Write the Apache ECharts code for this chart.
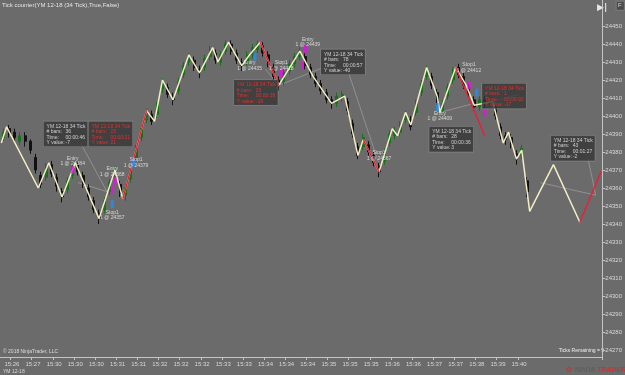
<!DOCTYPE html>
<html><head><meta charset="utf-8">
<script src="https://cdn.jsdelivr.net/npm/echarts@6/dist/echarts.min.js"></script>
<style>html,body{margin:0;padding:0;background:#6b6b6b}#c{width:625px;height:375px}</style>
</head><body><div id="c"></div>
<script>
// ---- data ----
const slotCount = 228;
const timeLabels = ['15:26','15:27','15:30','15:30','15:30','15:31','15:31','15:32','15:32','15:32','15:33','15:33','15:34','15:34','15:34','15:35','15:35','15:35','15:36','15:36','15:37','15:37','15:38','15:39','15:40'];
const yTicks = [24270,24280,24290,24300,24310,24320,24330,24340,24350,24360,24370,24380,24390,24400,24410,24420,24430,24440,24450];
const lastPrice = 24352;
// [open, close, low, high] one bar every other slot
const bars = [
[24388,24391,24386,24393],[24393,24390,24388,24395],[24391,24388,24385,24393],[24386,24389,24384,24391],[24389,24386,24383,24391],
[24386,24381,24379,24387],[24377,24370,24368,24379],[24367,24362,24360,24369],[24366,24372,24364,24374],[24373,24368,24366,24375],
[24366,24361,24358,24368],[24358,24355,24352,24360],[24359,24364,24357,24366],[24367,24372,24365,24374],[24373,24369,24367,24375],
[24367,24362,24360,24369],[24360,24355,24353,24362],[24353,24348,24346,24355],[24346,24343,24340,24348],[24348,24353,24346,24355],
[24358,24363,24356,24365],[24366,24370,24364,24372],[24362,24357,24355,24364],[24356,24360,24353,24362],[24365,24370,24363,24372],
[24377,24382,24375,24384],[24388,24393,24386,24395],[24398,24402,24396,24404],[24401,24397,24395,24403],[24401,24406,24399,24408],
[24415,24419,24413,24421],[24416,24412,24410,24418],[24411,24409,24406,24413],[24414,24419,24412,24421],[24423,24428,24421,24430],
[24430,24433,24428,24435],[24431,24427,24425,24433],[24426,24424,24421,24428],[24427,24432,24425,24434],[24433,24437,24431,24439],
[24435,24431,24429,24437],[24430,24434,24428,24436],[24436,24440,24434,24442],[24440,24436,24434,24442],[24435,24431,24429,24437],
[24430,24428,24425,24432],[24430,24434,24428,24436],[24434,24438,24432,24440],[24437,24440,24435,24442],[24439,24435,24433,24441],
[24434,24429,24427,24436],[24427,24422,24420,24429],[24420,24417,24414,24422],[24419,24424,24417,24426],[24425,24429,24423,24431],
[24429,24433,24427,24435],[24433,24436,24431,24438],[24433,24428,24426,24435],[24427,24423,24421,24429],[24422,24418,24416,24424],
[24418,24414,24412,24420],[24413,24409,24407,24415],[24409,24407,24404,24411],[24407,24411,24405,24413],[24410,24412,24408,24414],
[24408,24403,24401,24410],[24396,24390,24388,24398],[24383,24378,24376,24385],[24383,24388,24381,24390],[24384,24380,24378,24386],
[24378,24374,24372,24380],[24372,24369,24366,24374],[24375,24380,24373,24382],[24385,24390,24383,24392],[24389,24392,24387,24394],
[24391,24395,24389,24397],[24398,24401,24396,24403],[24398,24394,24392,24400],[24402,24407,24400,24409],[24413,24418,24411,24420],
[24422,24426,24420,24428],[24422,24417,24415,24424],[24413,24408,24406,24415],[24403,24407,24401,24409],[24411,24416,24409,24418],
[24420,24425,24418,24427],[24427,24423,24421,24429],[24422,24417,24415,24424],[24416,24412,24410,24418],[24409,24405,24403,24411],
[24405,24409,24403,24411],[24409,24407,24404,24411],[24406,24410,24404,24412],[24405,24400,24398,24407],[24394,24389,24387,24396],
[24389,24387,24384,24391],[24388,24384,24382,24390],[24379,24376,24373,24381],[24378,24382,24376,24384],[24364,24358,24355,24366]
];
const zigzag = [[0,24385],[2,24394],[14,24360],[18,24374],[23,24355],[28,24374],[37,24343],[43,24370],[46,24354],[55,24403],[58,24397],[61,24420],[65,24409],[71,24434],[75,24424],[80,24438],[82,24430],[86,24441],[91,24428],[94,24434],[98,24441],[105,24417],[113,24436],[118,24422],[125,24407],[130,24411],[135,24378],[137,24387],[143,24369],[148,24393],[150,24389],[153,24402],[155,24395],[161,24427],[165,24411],[166,24402],[172,24427],[176,24417],[179,24406],[186,24408],[190,24385],[192,24391],[195,24376],[197,24381],[200,24347],[209,24373],[219,24341]];
const redSegments = [
  [[46,24354],[55,24403]],
  [[98,24441],[105,24417]],
  [[137,24387],[143,24369]],
  [[172,24427],[183,24389]],
  [[219,24341],[227,24369]]
];
const connectors = [
  [[30,24385],[40,24358]],
  [[29,24363],[40,24358]],
  [[100,24426],[105,24417]],
  [[105,24417],[122,24427]],
  [[131,24426],[143,24373]],
  [[166,24402],[179,24407]],
  [[183,24407],[196,24412]],
  [[222,24377],[225,24356]],
  [[204,24363],[225,24356]]
];
const magentaMarks = [[27,24370],[43,24364],[42,24359],[106,24424],[115,24437],[114,24428],[177,24417],[183,24402]];
const blueMarks = [[42,24351],[50,24374],[96,24433],[165,24405],[180,24413]];
const tradeTexts = ['Entry\n1 @ 24384','Entry\n1 @ 24368','Stop1\n1 @ 24379','Stop1\n1 @ 24357','Entry\n1 @ 24435','Stop1\n1 @ 24418','Entry\n1 @ 24439','Stop1\n1 @ 24367','Stop1\n1 @ 24412','Entry\n1 @ 24409'];
const tradeAt = [[27,24375],[42,24369],[51,24374],[42,24345],[94,24428],[106,24428],[116,24441],[143,24378],[177,24427],[166,24400]];
const boxBars = [36,15,26,78,1,28,43];
const boxTimes = ['00:00:46','00:00:21','00:00:38','00:00:57','00:00:02','00:00:36','00:01:27'];
const boxYValues = [-7,21,-18,-40,-17,3,-2];
const boxIsRed = [false,true,true,false,true,false,false];
const boxAt = [[16,24397],[33,24397],[88,24420],[121,24437],[182,24418],[162,24394],[208,24389]];

// ---- build ----
const cats = new Array(slotCount).fill('');
timeLabels.forEach((t,i)=>{ cats[4+8*i] = t; });
const candleData = new Array(slotCount).fill('-');
bars.forEach((b,k)=>{ candleData[1+2*k] = b; });

const FONT = 'Liberation Sans';
const series = [];
series.push({
  type:'candlestick', data:candleData, barWidth:2.5, z:2,
  itemStyle:{color:'#17701a',color0:'#111111',borderColor:'#17701a',borderColor0:'#111111',borderWidth:1},
  markLine:{symbol:'none',silent:true,animation:false,lineStyle:{opacity:0},
    data:[{yAxis:lastPrice}],
    label:{position:'end',formatter:String(lastPrice),backgroundColor:'#2e2e2e',color:'#ffffff',fontSize:6,fontFamily:FONT,padding:[1,3],borderRadius:3,distance:1}}
});
connectors.forEach(seg=>series.push({type:'line',data:seg,symbol:'none',z:2,lineStyle:{color:'#a0a0a0',width:0.7},silent:true}));
series.push({type:'line',data:zigzag,symbol:'none',z:3,lineStyle:{color:'#f3edc6',width:1.5},silent:true});
redSegments.forEach(seg=>series.push({type:'line',data:seg,symbol:'none',z:4,lineStyle:{color:'#e8203c',width:1.5},silent:true}));
series.push({type:'scatter',data:magentaMarks,symbol:'rect',symbolSize:[3,8],z:5,itemStyle:{color:'#ff00ff'},silent:true});
series.push({type:'scatter',data:blueMarks,symbol:'rect',symbolSize:[3,8],z:5,itemStyle:{color:'#1e90ff'},silent:true});
series.push({type:'scatter',data:tradeAt.map((p,i)=>({value:p,name:tradeTexts[i]})),symbolSize:0,z:6,silent:true,
  label:{show:true,position:'inside',formatter:p=>p.name,color:'#eeeeee',fontSize:5,lineHeight:5.5,fontFamily:FONT,align:'center',verticalAlign:'middle'}});
series.push({type:'scatter',z:7,silent:true,symbolSize:0,
  data:boxAt.map((p,i)=>({value:p,idx:i})),
  label:{show:true,position:[0,0],align:'left',verticalAlign:'top',
    backgroundColor:'#363636',borderColor:'#8c8c8c',borderWidth:0.6,padding:[2,2,1,3],
    formatter:p=>{const i=p.dataIndex;const s=boxIsRed[i]?'r':'w';
      return '{'+s+'|YM 12-18 34 Tick}\n{'+s+'k|# bars:}{'+s+'|'+boxBars[i]+'}\n{'+s+'k|Time:}{'+s+'|'+boxTimes[i]+'}\n{'+s+'k|Y value:}{'+s+'|'+boxYValues[i]+'}';},
    rich:{
      w:{color:'#eeeeee',fontSize:5,lineHeight:5.5,fontFamily:FONT},
      wk:{color:'#eeeeee',fontSize:5,lineHeight:5.5,fontFamily:FONT,width:19},
      r:{color:'#ff3030',fontSize:5,lineHeight:5.5,fontFamily:FONT},
      rk:{color:'#ff3030',fontSize:5,lineHeight:5.5,fontFamily:FONT,width:19}
    }}
});

const chart = echarts.init(document.getElementById('c'),null,{renderer:'canvas'});
chart.setOption({
  backgroundColor:'#6b6b6b',
  animation:false,
  grid:{left:0,right:17,top:0,bottom:18,containLabel:false},
  xAxis:{type:'category',data:cats,boundaryGap:true,
    axisLine:{lineStyle:{color:'#c4c4c4',width:1}},
    axisTick:{show:true,interval:(i,v)=>v!=='',length:3,lineStyle:{color:'#c4c4c4'}},
    axisLabel:{interval:(i,v)=>v!=='',color:'#d8d8d8',fontSize:6,fontFamily:FONT,margin:4},
    splitLine:{show:false}},
  yAxis:{type:'value',position:'right',min:24266.111,max:24464.444,scale:true,
    axisLine:{show:true,lineStyle:{color:'#c4c4c4',width:1}},
    axisTick:{show:true,length:3,customValues:yTicks,lineStyle:{color:'#c4c4c4'}},
    axisLabel:{customValues:yTicks,formatter:v=>String(Math.round(v)),color:'#d8d8d8',fontSize:6,fontFamily:FONT,margin:3},
    splitLine:{show:false}},
  series:series,
  graphic:[
    {type:'text',left:2,top:2,style:{text:'Tick counter(YM 12-18 (34 Tick),True,False)',fill:'#e4e4e4',fontSize:6,fontFamily:FONT}},
    {type:'text',left:3,top:349,style:{text:'© 2018 NinjaTrader, LLC',fill:'#dcdcdc',fontSize:5,fontFamily:FONT}},
    {type:'text',left:3,top:369,style:{text:'YM 12-18',fill:'#dcdcdc',fontSize:5,fontFamily:FONT}},
    {type:'text',right:21,top:348,style:{text:'Ticks Remaining = 9',fill:'#eeeeee',fontSize:5,fontFamily:FONT}},
    {type:'text',left:597,top:3,style:{text:'▶|',fill:'#e8e8e8',fontSize:9,fontFamily:'DejaVu Sans',fontWeight:'bold'}},
    {type:'rect',left:616,top:1,shape:{width:8,height:9},style:{fill:'#4a4a4a',stroke:'#9a9a9a',lineWidth:0.5}},
    {type:'text',left:618,top:2,style:{text:'F',fill:'#dddddd',fontSize:6,fontFamily:FONT}},
    {type:'text',left:566,top:367,style:{text:'✪',fill:'#c0392b',fontSize:7,fontFamily:'DejaVu Sans'}},
    {type:'text',left:575,top:367,style:{text:'NINJA',fill:'#5a5a5a',fontSize:7,fontFamily:FONT}},
    {type:'text',left:597,top:367,style:{text:'TRADER',fill:'#d32f2f',fontSize:7,fontFamily:FONT,fontWeight:'bold',fontStyle:'italic'}}
  ]
});
</script></body></html>
